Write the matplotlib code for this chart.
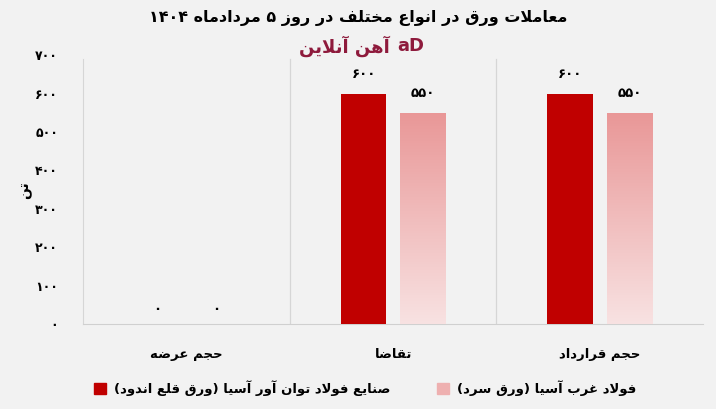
import numpy as np
import matplotlib
matplotlib.use("Agg")
import matplotlib.pyplot as plt
from matplotlib.patches import Patch

# --- minimal Persian shaping (matplotlib does no Arabic shaping / bidi) ---
FORMS = {
    'ا': (0xFE8D, 0xFE8E, None, None), 'آ': (0xFE81, 0xFE82, None, None),
    'ب': (0xFE8F, 0xFE90, 0xFE91, 0xFE92), 'ت': (0xFE95, 0xFE96, 0xFE97, 0xFE98),
    'ج': (0xFE9D, 0xFE9E, 0xFE9F, 0xFEA0), 'ح': (0xFEA1, 0xFEA2, 0xFEA3, 0xFEA4),
    'خ': (0xFEA5, 0xFEA6, 0xFEA7, 0xFEA8), 'د': (0xFEA9, 0xFEAA, None, None),
    'ر': (0xFEAD, 0xFEAE, None, None), 'ز': (0xFEAF, 0xFEB0, None, None),
    'س': (0xFEB1, 0xFEB2, 0xFEB3, 0xFEB4), 'ص': (0xFEB9, 0xFEBA, 0xFEBB, 0xFEBC),
    'ض': (0xFEBD, 0xFEBE, 0xFEBF, 0xFEC0), 'ع': (0xFEC9, 0xFECA, 0xFECB, 0xFECC),
    'غ': (0xFECD, 0xFECE, 0xFECF, 0xFED0), 'ف': (0xFED1, 0xFED2, 0xFED3, 0xFED4),
    'ق': (0xFED5, 0xFED6, 0xFED7, 0xFED8), 'ل': (0xFEDD, 0xFEDE, 0xFEDF, 0xFEE0),
    'م': (0xFEE1, 0xFEE2, 0xFEE3, 0xFEE4), 'ن': (0xFEE5, 0xFEE6, 0xFEE7, 0xFEE8),
    'ه': (0xFEE9, 0xFEEA, 0xFEEB, 0xFEEC), 'و': (0xFEED, 0xFEEE, None, None),
    'ی': (0xFBFC, 0xFBFD, 0xFBFE, 0xFBFF),
}
LAM_ALEF = {'ا': (0xFEFB, 0xFEFC), 'آ': (0xFEF5, 0xFEF6)}


def dual(c):
    return c in FORMS and FORMS[c][2] is not None


def shape(s):
    out = []
    i = 0
    while i < len(s):
        c = s[i]
        if c not in FORMS:
            out.append(c)
            i += 1
            continue
        prev = s[i - 1] if i > 0 else ''
        joins_prev = dual(prev)
        if c == 'ل' and i + 1 < len(s) and s[i + 1] in LAM_ALEF:
            iso, fin = LAM_ALEF[s[i + 1]]
            out.append(chr(fin if joins_prev else iso))
            i += 2
            continue
        nxt = s[i + 1] if i + 1 < len(s) else ''
        joins_next = dual(c) and nxt in FORMS
        iso, fin, ini, med = FORMS[c]
        if joins_prev and joins_next:
            f = med
        elif joins_prev:
            f = fin
        elif joins_next:
            f = ini
        else:
            f = iso
        out.append(chr(f))
        i += 1
    return out


def fa(s):
    # shape, then reverse to visual order keeping digit runs left-to-right
    chars = shape(s)
    tokens = []
    for c in chars:
        if c.isdigit() and tokens and tokens[-1][0].isdigit():
            tokens[-1] += c
        else:
            tokens.append(c)
    mirror = {'(': ')', ')': '('}
    return ''.join(mirror.get(t, t) for t in reversed(tokens))


def fa_num(n):
    return str(int(n)).translate(str.maketrans('0123456789', '۰۱۲۳۴۵۶۷۸۹'))


# --- data ---
categories = ['حجم عرضه', 'تقاضا', 'حجم قرارداد']
series_names = ['صنایع فولاد توان آور آسیا (ورق قلع اندود)', 'فولاد غرب آسیا (ورق سرد)']
tavan_avar = [0, 600, 600]
gharb_asia = [0, 550, 550]
yticks = [0, 100, 200, 300, 400, 500, 600, 700]
title = 'معاملات ورق در انواع مختلف در روز ۵ مردادماه ۱۴۰۴'
brand = 'آهن آنلاین'
ylabel = 'تن'

plt.rcParams['font.family'] = ['DejaVu Sans']
bg = '#f2f2f2'
red = '#c00000'
pink = '#eeb0b0'
brand_col = '#8e1a3c'

fig = plt.figure(figsize=(7.16, 4.09), dpi=100, facecolor=bg)
ax = fig.add_axes([0.116, 0.208, 0.866, 0.657], facecolor=bg)

x = np.arange(len(categories))
w = 0.22
off = 0.143
b1 = ax.bar(x - off, tavan_avar, w, color=red, zorder=3)
b2 = ax.bar(x + off, gharb_asia, w, color='none', zorder=3)

# vertical gradient for the light series
grad = np.linspace(0, 1, 256).reshape(-1, 1)
cmap = matplotlib.colors.LinearSegmentedColormap.from_list('p', ['#f8e2e2', '#e99797'])
for bar in b2:
    h = bar.get_height()
    if h <= 0:
        continue
    bx = bar.get_x()
    im = ax.imshow(grad, extent=[bx, bx + bar.get_width(), 0, h], origin='lower',
                   cmap=cmap, aspect='auto', zorder=3)
    im.set_clip_path(bar)

ax.set_xlim(-0.5, 2.5)
ax.set_ylim(0, 700)

for bars, vals in ((b1, tavan_avar), (b2, gharb_asia)):
    for bar, v in zip(bars, vals):
        ax.annotate(fa_num(v), (bar.get_x() + bar.get_width() / 2, v),
                    xytext=(0, 9 if v > 0 else 6), textcoords='offset points',
                    ha='center', va='bottom', fontsize=9.5, fontweight='bold', color='black')

for xs in (0.5, 1.5):
    ax.axvline(xs, ymax=0.985, color='#d6d6d6', lw=0.9, zorder=1)

for sp in ('top', 'right'):
    ax.spines[sp].set_visible(False)
ax.spines['left'].set_color('#d6d6d6')
ax.spines['left'].set_bounds(0, 690)
ax.spines['bottom'].set_color('#d0d0d0')

ax.set_xticks(x)
ax.set_xticklabels([fa(c) for c in categories], fontsize=9.5, fontweight='bold')
ax.set_yticks(yticks)
ax.set_yticklabels([fa_num(v) for v in yticks], fontsize=9, fontweight='bold')
ax.tick_params(axis='x', length=0, pad=17)
ax.tick_params(axis='y', length=0, pad=18)
fig.text(0.035, 0.535, fa(ylabel), rotation=90, ha='center', va='center',
         fontsize=10, fontweight='bold')

fig.text(0.5, 0.955, fa(title), ha='center', va='center', fontsize=11.5, fontweight='bold')
fig.text(0.545, 0.888, fa(brand), ha='right', va='center', fontsize=13, fontweight='bold',
         color=brand_col)
fig.text(0.555, 0.888, 'aD', ha='left', va='center', fontsize=13, fontweight='bold',
         color=brand_col)

handles = [Patch(color=red), Patch(color=pink)]
fig.legend(handles, [fa(n) for n in series_names], loc='center', ncol=2,
           bbox_to_anchor=(0.51, 0.052), frameon=False,
           prop={'weight': 'bold', 'size': 9.5}, handlelength=0.9, handleheight=0.9,
           columnspacing=3.5, handletextpad=0.6)

fig.savefig('out.png', dpi=100, facecolor=bg)
